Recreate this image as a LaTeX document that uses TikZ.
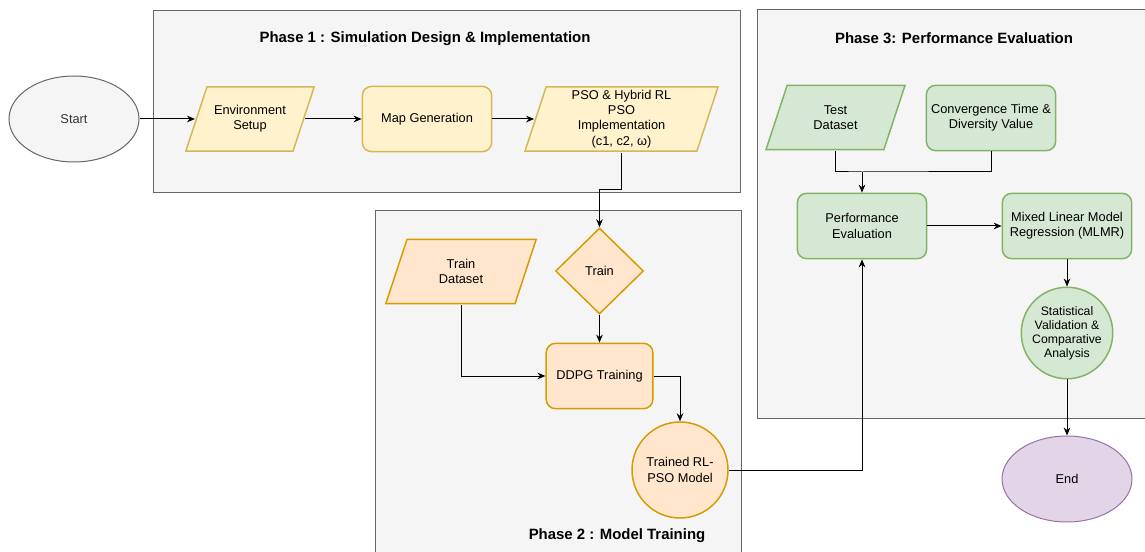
\documentclass[tikz,border=0pt]{standalone}
\usepackage{fontspec}
\setmainfont{Liberation Sans}
\usetikzlibrary{shapes.geometric,arrows.meta,positioning}
\definecolor{PhaseFill}{HTML}{F5F5F5}
\definecolor{PhaseLine}{HTML}{666666}
\definecolor{TxtClr}{HTML}{333333}
\definecolor{YelFill}{HTML}{FFF2CC}
\definecolor{YelLine}{HTML}{D6B656}
\definecolor{OrgFill}{HTML}{FFE6CC}
\definecolor{OrgLine}{HTML}{D79B00}
\definecolor{GrnFill}{HTML}{D5E8D4}
\definecolor{GrnLine}{HTML}{82B366}
\definecolor{PurFill}{HTML}{E1D5E7}
\definecolor{PurLine}{HTML}{9673A6}

\begin{document}
\begin{tikzpicture}[x=0.75pt,y=-0.75pt,
  font=\fontsize{9.6}{11.5}\selectfont,
  phase/.style={draw=PhaseLine,fill=PhaseFill,line width=0.75pt},
  title/.style={font=\fontsize{11.2}{13}\selectfont\bfseries},
  base/.style={line width=1.1pt,align=center,inner sep=1pt},
  rbox/.style={base,rounded corners=7pt,minimum width=97pt,minimum height=49pt},
  % parallelogram drawn inside a plain box, slant 16.5pt
  slanted/.style n args={3}{base,rectangle,minimum width=#1,minimum height=49.5pt,
    path picture={\draw[draw=#3,fill=#2,line width=1.1pt]
      ([xshift=16.5pt,yshift=-0.6pt]path picture bounding box.north west)
      -- ([xshift=-0.6pt,yshift=-0.6pt]path picture bounding box.north east)
      -- ([xshift=-16.5pt,yshift=0.6pt]path picture bounding box.south east)
      -- ([xshift=0.6pt,yshift=0.6pt]path picture bounding box.south west) -- cycle;}},
  yel/.style={draw=YelLine,fill=YelFill},
  org/.style={draw=OrgLine,fill=OrgFill},
  grn/.style={draw=GrnLine,fill=GrnFill},
  flow/.style={-{Stealth[length=6pt,width=5pt]},line width=0.75pt}
]
\useasboundingbox (0,0) rectangle (1145,552);

% phase frames
\draw[phase] (153,11) rectangle (740,193);
\draw[phase] (375,211) rectangle (741,560);
\draw[phase] (757,10) rectangle (1150,418);
\node[title] (t1) at (425,39) {Phase 1 : Simulation Design \& Implementation};
\node[title] (t2) at (617,536) {Phase 2 : Model Training};
\node[title] (t3) at (954,38) {Phase 3: Performance Evaluation};

% phase 1
\node[ellipse,draw=PhaseLine,fill=PhaseFill,line width=0.75pt,text=TxtClr,
  minimum width=97.5pt,minimum height=64.5pt] (start) at (74,119) {Start};
\node[slanted={97.5pt}{YelFill}{YelLine}] (env) at (250,119) {Environment\\Setup};
\node[rbox,yel] (map) at (427,119) {Map Generation};
\node[slanted={146pt}{YelFill}{YelLine}] (pso) at (621.5,119) {PSO \& Hybrid RL\\PSO\\Implementation\\(c1, c2, ω)};

% phase 2
\node[diamond,base,org,minimum width=66pt,minimum height=64.5pt] (train) at (599.5,271) {Train};
\node[slanted={114pt}{OrgFill}{OrgLine}] (trainset) at (461,271.5) {Train\\Dataset};
\node[rbox,org,minimum width=80pt] (ddpg) at (599.5,376) {DDPG Training};
\node[circle,base,org,minimum size=72pt] (rlpso) at (680,470) {Trained RL-\\PSO Model};

% phase 3
\node[slanted={105.5pt}{GrnFill}{GrnLine}] (testset) at (835.5,117.5) {Test\\Dataset};
\node[rbox,grn] (conv) at (991,118) {Convergence Time \&\\Diversity Value};
\node[rbox,grn] (perf) at (862,226) {Performance\\Evaluation};
\node[rbox,grn] (mlmr) at (1067,226) {Mixed Linear Model\\Regression (MLMR)};
\node[circle,base,grn,minimum size=64.5pt,font=\fontsize{9.2}{10.5}\selectfont] (stat) at (1067,333)
  {Statistical\\Validation \&\\Comparative\\Analysis};
\node[ellipse,draw=PurLine,fill=PurFill,line width=0.75pt,
  minimum width=97.5pt,minimum height=64.5pt] (end) at (1067,479) {End};

% connectors
\coordinate (kink) at (599.5,190);
\coordinate (merge) at (862,172);
\draw[flow,shorten >=-8pt] (start) -- (env);
\draw[flow,shorten <=-8pt] (env) -- (map);
\draw[flow,shorten >=-8pt] (map) -- (pso);
\draw[flow] (pso.south) |- (kink) -- (train.north);
\draw[flow] (train) -- (ddpg);
\draw[flow] (trainset.south) |- (ddpg.west);
\draw[flow] (ddpg.east) -| (rlpso.north);
\draw[flow] (rlpso.east) -| (perf.south);
\draw[line width=0.75pt] (testset.south) |- (merge) -| (conv.south);
\draw[flow] (merge) -- (perf.north);
\draw[flow] (perf) -- (mlmr);
\draw[flow] (mlmr) -- (stat);
\draw[flow] (stat) -- (end);

\end{tikzpicture}
\end{document}
